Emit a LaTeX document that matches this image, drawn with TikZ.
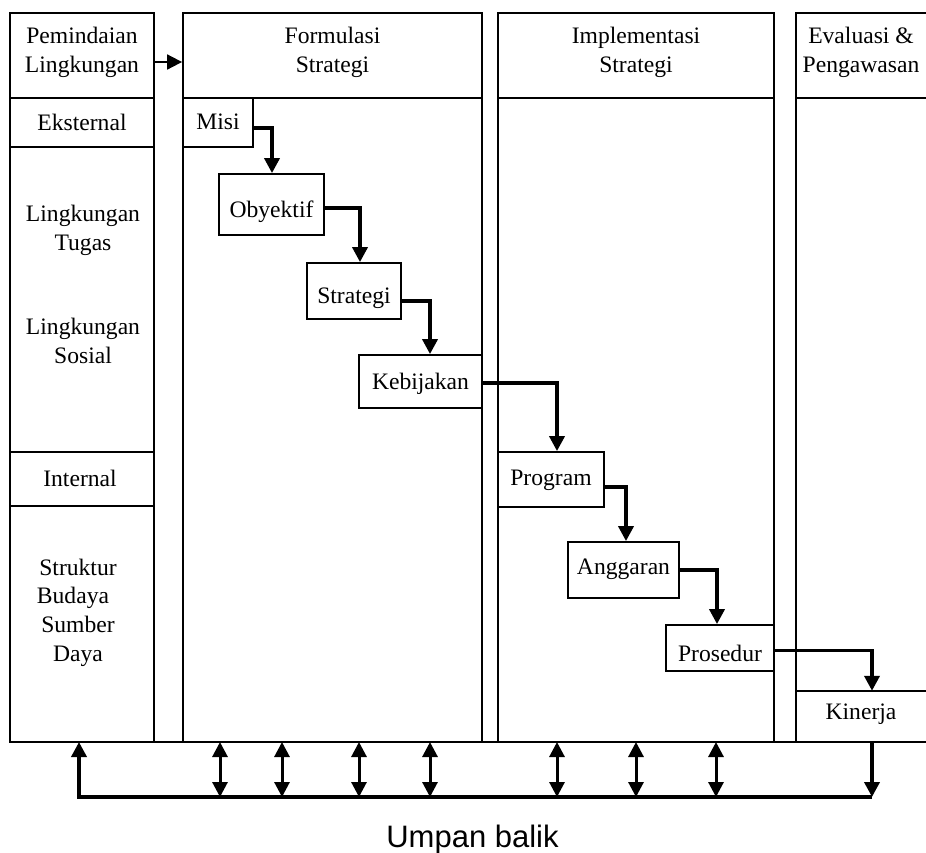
\documentclass[tikz,border=0pt]{standalone}
\usepackage{fontspec}
\setmainfont{Liberation Serif}
\newfontfamily\labelsans{Liberation Sans}
\usetikzlibrary{arrows.meta}
\begin{document}
\begin{tikzpicture}[x=1pt,y=-1pt,
  font=\fontsize{23.6}{28.7}\selectfont,
  frame/.style={line width=1.8pt},
  cell/.style={draw, line width=1.8pt, rectangle, inner sep=0pt},
  stepbox/.style={cell, align=center, text depth=0pt, text height=#1},
  txt/.style={align=center, inner sep=0pt},
  head/.tip={Triangle[length=15pt,width=15pt]},
  flow/.style={line width=3.6pt, -head},
  thinarrow/.style={line width=1.8pt, -head},
  fbline/.style={line width=3.6pt},
  fbboth/.style={line width=3pt, head-head}]
\useasboundingbox (0,0) rectangle (926,852);

% column headers
\node[cell, minimum width=144pt, minimum height=85pt] (hdr-scan) at (82,55.5) {};
\node[cell, minimum width=299pt, minimum height=85pt] (hdr-form) at (332.5,55.5) {};
\node[cell, minimum width=276pt, minimum height=85pt] (hdr-impl) at (636,55.5) {};
\draw[frame] (926,13) -- (796,13) -- (796,742);
\draw[frame] (796,98) -- (926,98);

\node[txt] (t-scan) at (82,52.2) {Pemindaian\\Lingkungan};
\node[txt] (t-form) at (332.5,52.2) {Formulasi\\Strategi};
\node[txt] (t-impl) at (636,52.2) {Implementasi\\Strategi};
\node[txt] (t-eval) at (861,52.2) {Evaluasi \&\\Pengawasan};

% column bodies
\draw[frame] (10,98) -- (10,742);
\draw[frame] (154,98) -- (154,742);
\draw[frame] (183,98) -- (183,742);
\draw[frame] (482,98) -- (482,742);
\draw[frame] (498,98) -- (498,742);
\draw[frame] (774,98) -- (774,742);
\draw[frame] (9,742) -- (926,742);

% environmental scanning column
\draw[frame] (10,147) -- (154,147);
\draw[frame] (10,452) -- (154,452);
\draw[frame] (10,506) -- (154,506);
\node[txt] (eksternal) at (82,122.5) {Eksternal};
\node[txt] (tugas) at (83,230.5) {Lingkungan\\Tugas};
\node[txt] (sosial) at (83,341) {Lingkungan\\Sosial};
\node[txt] (internal) at (80,478) {Internal};
\node[txt] (struktur) at (78,612.5) {Struktur\\Budaya\kern10pt\\Sumber\\Daya};

\draw[thinarrow] ([yshift=-6.5pt]hdr-scan.east) -- ([yshift=-6.5pt]hdr-form.west);

% process steps (text height sets where the baseline sits in each box)
\node[stepbox=13.6pt, minimum width=70pt,  minimum height=49pt] (misi)      at (218,122.5)   {Misi};
\node[stepbox=25pt,   minimum width=105pt, minimum height=61pt] (obyektif)  at (271.5,204.5) {Obyektif};
\node[stepbox=24pt,   minimum width=94pt,  minimum height=56pt] (strategi)  at (354,291)     {Strategi};
\node[stepbox=15pt,   minimum width=123pt, minimum height=53pt] (kebijakan) at (420.5,381.5) {Kebijakan};
\node[stepbox=12.4pt, minimum width=106pt, minimum height=55pt] (program)   at (551,479.5)   {Program};
\node[stepbox=8.6pt,  minimum width=111pt, minimum height=56pt] (anggaran)  at (623.5,570)   {Anggaran};
\node[stepbox=26pt,   minimum width=108pt, minimum height=46pt] (prosedur)  at (720,648)     {Prosedur};
\node[txt, text depth=0pt, text height=5.6pt, minimum width=130pt, minimum height=51pt] (kinerja) at (861,716.5) {Kinerja};
\draw[frame] (kinerja.north west) -- (kinerja.north east);

\draw[flow] ([yshift=-5.5pt]misi.east) -| ([xshift=0.5pt]obyektif.north);
\draw[flow] ([yshift=-3.5pt]obyektif.east) -| ([xshift=6pt]strategi.north);
\draw[flow] ([yshift=-10pt]strategi.east) -| ([xshift=9.5pt]kebijakan.north);
\draw[flow] ([yshift=-1.5pt]kebijakan.east) -| ([xshift=6pt]program.north);
\draw[flow] ([yshift=-7.5pt]program.east) -| ([xshift=2.5pt]anggaran.north);
\draw[flow] (anggaran.east) -| ([xshift=-3pt]prosedur.north);
\draw[flow] ([yshift=-2.5pt]prosedur.east) -| ([xshift=11pt]kinerja.north);

% feedback loop
\coordinate (base-l) at (79,742);
\coordinate (fb-l) at (79,797);
\coordinate (base-r) at (872,742);
\coordinate (fb-r) at (872,797);
\draw[fbline, head-] (base-l) -- (fb-l) -- (fb-r);
\draw[fbline, -head] (base-r) -- (fb-r);
\foreach \x [count=\i] in {220,282,359,430,557,636,716} {
  \coordinate (up\i) at (\x,742);
  \coordinate (dn\i) at (\x,797);
  \draw[fbboth] (up\i) -- (dn\i);
}
\node[anchor=base, inner sep=0pt, font=\labelsans\fontsize{31}{36}\selectfont] (umpan) at (472.5,847) {Umpan balik};
\end{tikzpicture}
\end{document}
